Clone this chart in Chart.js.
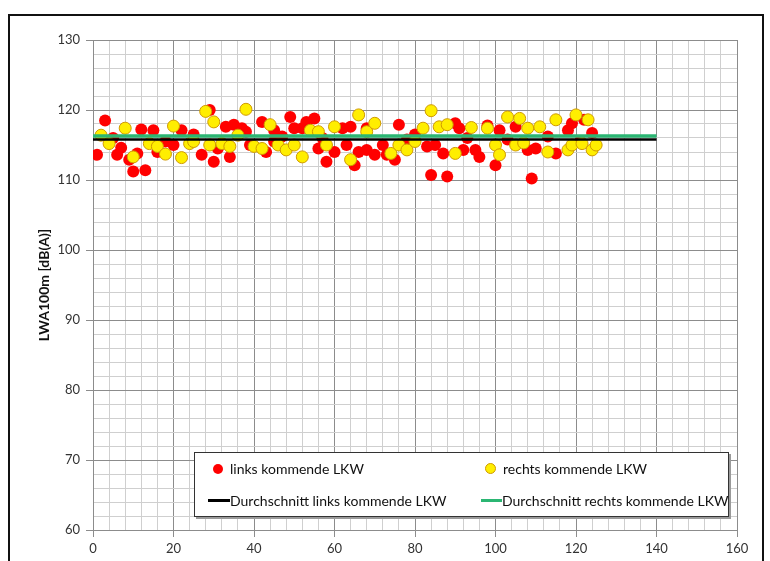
<!DOCTYPE html>
<html>
<head>
<meta charset="utf-8">
<script src="https://cdn.jsdelivr.net/npm/chart.js@4/dist/chart.umd.min.js"></script>
<style>
  html, body { margin: 0; padding: 0; background: #fff; }
  #wrap { position: relative; width: 770px; height: 561px; overflow: hidden; }
  #frame { position: absolute; left: 8px; top: 14px; width: 752px; height: 600px; border: 2px solid #111; pointer-events: none; }
  #legend { position: absolute; left: 194px; top: 452px; width: 533px; height: 63px; background: #fff;
            border: 1px solid #333; box-shadow: 2px 2px 0 #9a9a9a; font-family: Lato, "Open Sans", sans-serif;
            font-size: 14px; color: #111; }
  .item { position: absolute; white-space: nowrap; line-height: 16px; }
  .dot { position: absolute; width: 10px; height: 10px; border-radius: 50%; }
  .ln { position: absolute; height: 3px; }
</style>
</head>
<body>
<div id="wrap">
  <canvas id="c" width="770" height="561"></canvas>
  <div id="legend">
    <div class="dot" style="left:18px; top:11px; background:#ff0000;"></div>
    <div class="item" style="left:35px; top:8px;">links kommende LKW</div>
    <div class="dot" style="left:290px; top:10px; width:9px; height:9px; background:#ffee00; border:1px solid #d09a00;"></div>
    <div class="item" style="left:308px; top:8px;">rechts kommende LKW</div>
    <div class="ln" style="left:13px; top:46px; width:22px; background:#000;"></div>
    <div class="item" style="left:35px; top:40px;">Durchschnitt links kommende LKW</div>
    <div class="ln" style="left:286px; top:46px; width:21px; background:#2bb673;"></div>
    <div class="item" style="left:307px; top:40px;">Durchschnitt rechts kommende LKW</div>
  </div>
  <div id="frame"></div>
</div>
<script>
// ---- data ----
const linksX = [1,3,5,6,7,9,10,11,12,13,15,16,18,20,22,25,27,29,30,31,33,34,35,37,38,39,42,43,45,45,47,49,50,52,53,55,56,57,58,60,62,63,64,65,66,68,68,70,72,73,75,76,78,80,83,84,85,87,88,90,91,92,93,95,96,98,100,101,103,105,108,109,110,113,115,118,119,121,122,124];
const linksY = [113.6,118.5,116.0,113.6,114.6,112.9,111.2,113.8,117.2,111.4,117.1,114.0,115.5,115.0,117.1,116.5,113.6,120.0,112.6,114.5,117.6,113.3,117.9,117.4,116.9,115.0,118.3,114.0,115.5,117.1,116.2,119.0,117.4,117.4,118.3,118.8,114.5,116.0,112.6,114.0,117.4,115.0,117.6,112.1,114.0,114.3,117.4,113.6,115.0,113.6,112.9,117.9,115.8,116.5,114.8,110.7,115.0,113.8,110.5,118.1,117.4,114.3,116.0,114.3,113.3,117.8,112.1,117.1,115.8,117.6,114.3,110.2,114.5,116.2,113.8,117.1,118.1,115.5,118.6,116.7];
const rechtsX = [2,4,8,10,14,16,18,20,22,24,25,28,29,30,32,34,36,38,40,42,44,46,48,50,52,54,56,58,60,64,66,68,70,74,76,78,80,82,84,86,88,90,94,98,100,101,103,105,106,107,108,111,113,115,118,119,120,121.5,123,124,125];
const rechtsY = [116.4,115.2,117.4,113.3,115.2,114.8,113.7,117.7,113.2,115.2,115.5,119.8,115.0,118.3,115.2,114.8,116.4,120.1,114.8,114.5,117.9,115.0,114.3,115.0,113.3,117.1,116.9,115.0,117.6,112.9,119.3,116.9,118.1,113.8,115.0,114.3,115.5,117.4,119.9,117.6,117.9,113.8,117.5,117.4,115.0,113.6,119.0,115.0,118.8,115.3,117.4,117.6,114.0,118.6,114.3,115.0,119.3,115.2,118.6,114.3,115.0];
const avgRange = [0, 140];
const avgLinks = 115.8;
const avgRechts = 116.3;
const xTicksMajor = 20, xTicksMinor = 4;
const yTicksMajor = 10, yTicksMinor = 2;

const pts = (xs, ys) => xs.map((x, i) => ({ x: x, y: ys[i] }));
const hline = (v) => avgRange.map(x => ({ x: x, y: v }));

const majorCol = '#8c8c8c', minorCol = '#cfcfcf';

new Chart(document.getElementById('c'), {
  type: 'scatter',
  data: {
    datasets: [
      { label: 'Durchschnitt rechts kommende LKW', data: hline(avgRechts), type: 'line', showLine: true,
        borderColor: '#2bb673', borderWidth: 3.5, pointRadius: 0, order: 0 },
      { label: 'Durchschnitt links kommende LKW', data: hline(avgLinks), type: 'line', showLine: true,
        borderColor: '#000000', borderWidth: 2.5, pointRadius: 0, order: 0 },
      { label: 'rechts kommende LKW', data: pts(rechtsX, rechtsY), backgroundColor: '#ffee00',
        borderColor: '#d09a00', borderWidth: 1, pointRadius: 6, order: 1 },
      { label: 'links kommende LKW', data: pts(linksX, linksY), backgroundColor: '#ff0000',
        borderColor: '#ff0000', borderWidth: 0, pointRadius: 6, order: 2 }
    ]
  },
  options: {
    responsive: false,
    animation: false,
    layout: { padding: { left: 0, top: 40, right: 33, bottom: 0 } },
    plugins: { legend: { display: false }, tooltip: { enabled: false } },
    scales: {
      x: {
        type: 'linear', min: 0, max: 160,
        afterFit: s => { s.height = 31; },
        ticks: { stepSize: xTicksMinor, autoSkip: false, maxRotation: 0, padding: 4,
                 color: '#333', font: { family: 'Lato', size: 13 },
                 callback: v => (v % xTicksMajor === 0 ? v : '') },
        grid: { color: c => (c.tick && c.tick.value % xTicksMajor === 0 ? majorCol : minorCol),
                tickColor: c => (c.tick && c.tick.value % xTicksMajor === 0 ? majorCol : 'rgba(0,0,0,0)'),
                tickLength: 7, lineWidth: 1 },
        border: { color: majorCol }
      },
      y: {
        type: 'linear', min: 60, max: 130,
        afterFit: s => { s.width = 93; },
        ticks: { stepSize: yTicksMinor, autoSkip: false, padding: 6,
                 color: '#333', font: { family: 'Lato', size: 13 },
                 callback: v => (v % yTicksMajor === 0 ? v : '') },
        grid: { color: c => (c.tick && c.tick.value % yTicksMajor === 0 ? majorCol : minorCol),
                tickColor: c => (c.tick && c.tick.value % yTicksMajor === 0 ? majorCol : 'rgba(0,0,0,0)'),
                tickLength: 7, lineWidth: 1 },
        border: { color: majorCol },
        title: { display: true, text: 'LWA100m [dB(A)]', color: '#111',
                 font: { family: 'Lato', size: 14, weight: 'bold' }, padding: { top: 36, bottom: 0 } }
      }
    }
  }
});
</script>
</body>
</html>
